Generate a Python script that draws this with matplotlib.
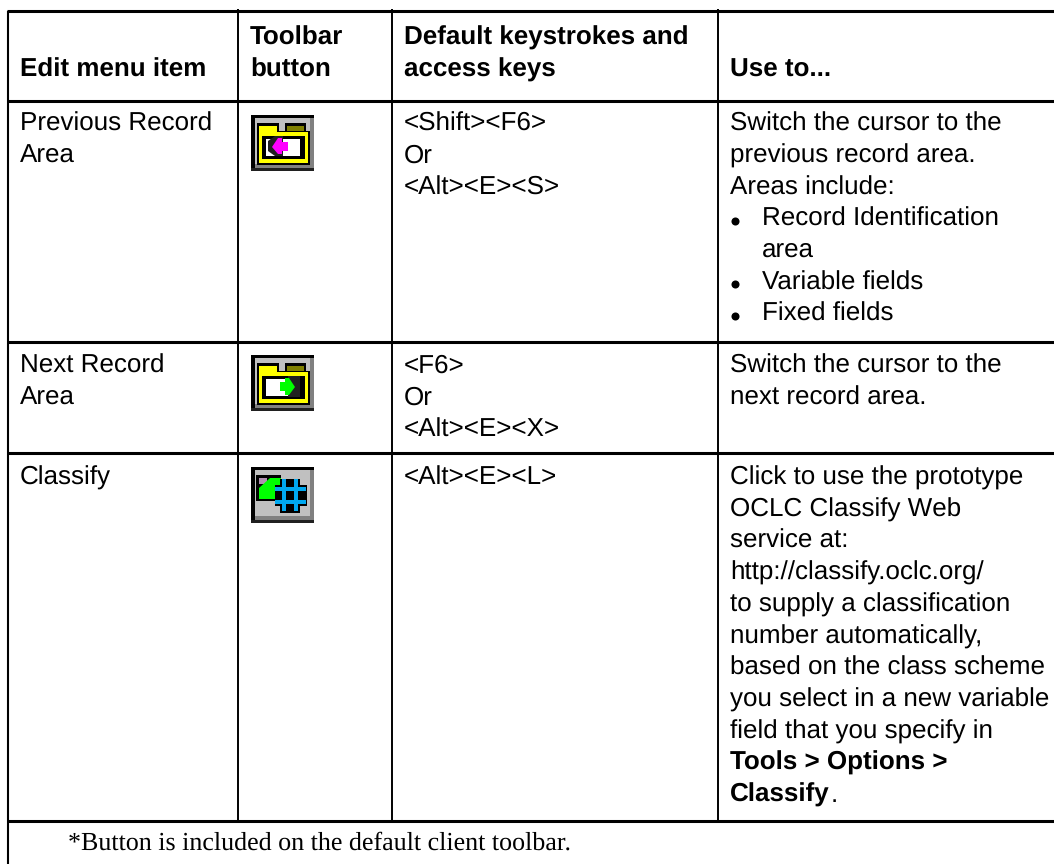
import matplotlib

matplotlib.use("agg")
import matplotlib.pyplot as plt
from matplotlib.patches import Polygon, Rectangle

plt.rcParams["text.hinting"] = "none"
plt.rcParams["text.hinting_factor"] = 1

W, H = 1054, 864

col_lines = [8, 238, 392, 718]
row_lines = [11, 100.5, 342, 453, 821]

header_labels = ["Edit menu item", "Toolbar\nbutton", "Default keystrokes and\naccess keys", "Use to..."]
menu_items = ["Previous Record\nArea", "Next Record\nArea", "Classify"]
keystrokes = ["<Shift><F6>\nOr\n<Alt><E><S>", "<F6>\nOr\n<Alt><E><X>", "<Alt><E><L>"]
use_row1 = ["Switch the cursor to the", "previous record area.", "Areas include:"]
use_row1_bullets = [["Record Identification", "area"], ["Variable fields"], ["Fixed fields"]]
use_row2 = ["Switch the cursor to the", "next record area."]
use_row3 = [
    "Click to use the prototype",
    "OCLC Classify Web",
    "service at:",
    "http://classify.oclc.org/",
    "to supply a classification",
    "number automatically,",
    "based on the class scheme",
    "you select in a new variable",
    "field that you specify in",
]
use_row3_bold = "Tools > Options >"
footnote = "*Button is included on the default client toolbar."

SANS = "Liberation Sans"
SERIF = "Liberation Serif"
FS = 19.0
LH = 31.7


def rect(ax, x, y, w, h, color, z=3):
    ax.add_patch(Rectangle((x, y), w, h, facecolor=color, edgecolor="none", zorder=z))


def button_frame(ax, x, y):
    rect(ax, x, y, 63, 56, "#000000")
    rect(ax, x + 4, y + 3, 59, 50, "#c0c0c0")
    rect(ax, x + 59, y + 3, 4, 50, "#808080", 4)
    rect(ax, x + 4, y + 49, 59, 4, "#808080", 4)
    rect(ax, x, y + 53, 63, 3, "#202020", 4)


def folder_icon(ax, x, y, arrow_color, arrow_right):
    """Yellow folder toolbar button with a small arrow."""
    button_frame(ax, x, y)
    rect(ax, x + 6, y + 8, 22, 12, "#000000", 5)
    rect(ax, x + 8, y + 11, 18, 8, "#ffff00", 6)
    rect(ax, x + 34, y + 8, 21, 12, "#000000", 5)
    rect(ax, x + 36, y + 11, 17, 5, "#808000", 6)
    rect(ax, x + 6, y + 16, 53, 34, "#000000", 5)
    rect(ax, x + 8, y + 17, 49, 31, "#ffff00", 6)
    rect(ax, x + 11, y + 21, 43, 23, "#000000", 7)
    rect(ax, x + 15, y + 24, 34, 17, "#ffffff", 8)
    if arrow_right:
        arrow = [(44, 32), (38, 23), (34, 23), (34, 27), (29, 27), (29, 36), (34, 36), (34, 40), (38, 40)]
        shadow = [(37, 21), (49, 21), (49, 42), (37, 42)]
    else:
        arrow = [(21, 32), (27, 23), (31, 23), (31, 27), (37, 27), (37, 36), (31, 36), (31, 39), (27, 39)]
        shadow = [(17, 26), (24, 21), (32, 21), (32, 41), (24, 41), (17, 36)]
    ax.add_patch(Polygon([(x + a, y + b) for a, b in shadow], closed=True, facecolor="#202020", edgecolor="none", zorder=9))
    ax.add_patch(Polygon([(x + a, y + b) for a, b in arrow], closed=True, facecolor=arrow_color, edgecolor="none", zorder=10))


def classify_icon(ax, x, y):
    button_frame(ax, x, y)
    rect(ax, x + 5, y + 8, 25, 26, "#000000", 5)
    rect(ax, x + 8, y + 11, 8, 6, "#b090b0", 6)
    ax.add_patch(Polygon([(x + 8, y + 32), (x + 8, y + 21), (x + 19, y + 11), (x + 30, y + 11), (x + 30, y + 32)], closed=True, facecolor="#00ff00", edgecolor="none", zorder=7))
    rect(ax, x + 24, y + 18, 32, 21, "#000000", 8)
    rect(ax, x + 29, y + 12, 20, 34, "#000000", 8)
    for dx in [31, 43]:
        rect(ax, x + dx, y + 12, 4, 32, "#00a8f0", 9)
    for dy in [20, 33]:
        rect(ax, x + 24, y + dy, 31, 4, "#00a8f0", 9)


fig = plt.figure(figsize=(W / 100, H / 100), dpi=100)
ax = fig.add_axes([0, 0, 1, 1])
ax.set_xlim(0, W)
ax.set_ylim(H, 0)
ax.axis("off")

# grid lines
for y in row_lines:
    ax.plot([col_lines[0] - 1, W], [y, y], color="black", lw=2.2, solid_capstyle="butt")
for x in col_lines[1:]:
    ax.plot([x, x], [row_lines[0] - 2, row_lines[-1]], color="black", lw=1.4, solid_capstyle="butt")
ax.plot([col_lines[0], col_lines[0]], [row_lines[0], H], color="black", lw=1.5, solid_capstyle="butt")


def put(x, y, s, weight="normal", family=SANS, size=FS):
    return ax.text(x, y, s, fontsize=size, fontweight=weight, family=family, ha="left", va="baseline", color="black", zorder=12)


def put_lines(x, y, s, weight="normal"):
    for i, line in enumerate(s.split("\n")):
        put(x, y + i * LH, line, weight)


# header row, bottom aligned
text_x = [20, 250, 404, 730]
for x, label in zip(text_x, header_labels):
    n = label.count("\n")
    put_lines(x, 76.5 - n * LH, label, "bold")

# menu items and keystrokes
row_base = [131, 373, 484.7]
for i in range(3):
    put_lines(text_x[0], row_base[i], menu_items[i])
    put_lines(text_x[2], row_base[i], keystrokes[i])

# use column
y = row_base[0]
for line in use_row1:
    put(text_x[3], y, line)
    y += LH
for group in use_row1_bullets:
    ax.plot([text_x[3] + 5], [y - 5.5], "o", color="black", ms=5.8, mew=0, zorder=12)
    for line in group:
        put(text_x[3] + 32, y, line)
        y += LH

for i, line in enumerate(use_row2):
    put(text_x[3], row_base[1] + i * LH, line)

y = row_base[2]
for line in use_row3:
    put(text_x[3], y, line)
    y += LH
put(text_x[3], y, use_row3_bold, "bold")
y += LH
t = put(text_x[3], y, "Classify", "bold")
fig.canvas.draw()
bb = t.get_window_extent()
put(bb.x1 + 1, y, ".")

put(68, 850, footnote, family=SERIF, size=19)

folder_icon(ax, 251, 115, "#ff00ff", False)
folder_icon(ax, 251, 355, "#00ff00", True)
classify_icon(ax, 251, 467)

fig.savefig("out.png", dpi=100)
